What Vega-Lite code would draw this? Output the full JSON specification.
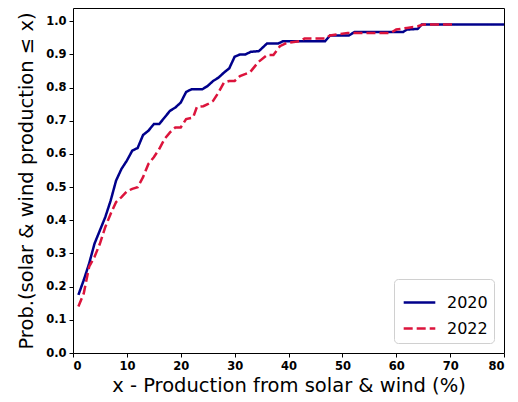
{
  "$schema": "https://vega.github.io/schema/vega-lite/v6.json",
  "width": 431,
  "height": 345,
  "autosize": {"type": "none"},
  "padding": {"left": 73, "top": 8, "right": 14, "bottom": 49},
  "background": "white",
  "config": {
    "font": "DejaVu Sans",
    "view": {"stroke": "black", "strokeWidth": 1},
    "axis": {
      "grid": false,
      "domain": false,
      "tickColor": "black",
      "tickSize": 4,
      "labelFont": "DejaVu Sans",
      "labelFontWeight": "bold",
      "labelFontSize": 11.5,
      "labelColor": "black",
      "titleFont": "DejaVu Sans",
      "titleFontWeight": "normal",
      "titleFontSize": 19.5,
      "titleColor": "black"
    }
  },
  "datasets": {
    "cdf": [
      {"x": 1, "p": 0.175, "year": "2020"},
      {"x": 2, "p": 0.22, "year": "2020"},
      {"x": 3, "p": 0.27, "year": "2020"},
      {"x": 4, "p": 0.33, "year": "2020"},
      {"x": 5, "p": 0.37, "year": "2020"},
      {"x": 6, "p": 0.41, "year": "2020"},
      {"x": 7, "p": 0.46, "year": "2020"},
      {"x": 8, "p": 0.52, "year": "2020"},
      {"x": 9, "p": 0.555, "year": "2020"},
      {"x": 10, "p": 0.58, "year": "2020"},
      {"x": 11, "p": 0.61, "year": "2020"},
      {"x": 12, "p": 0.618, "year": "2020"},
      {"x": 13, "p": 0.657, "year": "2020"},
      {"x": 14, "p": 0.67, "year": "2020"},
      {"x": 15, "p": 0.69, "year": "2020"},
      {"x": 16, "p": 0.69, "year": "2020"},
      {"x": 17, "p": 0.71, "year": "2020"},
      {"x": 18, "p": 0.73, "year": "2020"},
      {"x": 19, "p": 0.74, "year": "2020"},
      {"x": 20, "p": 0.755, "year": "2020"},
      {"x": 21, "p": 0.787, "year": "2020"},
      {"x": 22, "p": 0.795, "year": "2020"},
      {"x": 23, "p": 0.795, "year": "2020"},
      {"x": 24, "p": 0.795, "year": "2020"},
      {"x": 25, "p": 0.805, "year": "2020"},
      {"x": 26, "p": 0.82, "year": "2020"},
      {"x": 27, "p": 0.83, "year": "2020"},
      {"x": 28, "p": 0.845, "year": "2020"},
      {"x": 29, "p": 0.858, "year": "2020"},
      {"x": 30, "p": 0.893, "year": "2020"},
      {"x": 31, "p": 0.9, "year": "2020"},
      {"x": 32, "p": 0.9, "year": "2020"},
      {"x": 33, "p": 0.908, "year": "2020"},
      {"x": 34.5, "p": 0.91, "year": "2020"},
      {"x": 36, "p": 0.933, "year": "2020"},
      {"x": 38.1, "p": 0.933, "year": "2020"},
      {"x": 39, "p": 0.94, "year": "2020"},
      {"x": 46.8, "p": 0.94, "year": "2020"},
      {"x": 47.7, "p": 0.957, "year": "2020"},
      {"x": 51.2, "p": 0.957, "year": "2020"},
      {"x": 52.3, "p": 0.968, "year": "2020"},
      {"x": 61.3, "p": 0.968, "year": "2020"},
      {"x": 62, "p": 0.975, "year": "2020"},
      {"x": 64, "p": 0.977, "year": "2020"},
      {"x": 64.7, "p": 0.99, "year": "2020"},
      {"x": 80, "p": 0.99, "year": "2020"},
      {"x": 1, "p": 0.14, "year": "2022"},
      {"x": 2, "p": 0.18, "year": "2022"},
      {"x": 3, "p": 0.26, "year": "2022"},
      {"x": 4, "p": 0.29, "year": "2022"},
      {"x": 5, "p": 0.33, "year": "2022"},
      {"x": 6, "p": 0.38, "year": "2022"},
      {"x": 7, "p": 0.42, "year": "2022"},
      {"x": 8, "p": 0.455, "year": "2022"},
      {"x": 9, "p": 0.47, "year": "2022"},
      {"x": 10, "p": 0.487, "year": "2022"},
      {"x": 11, "p": 0.495, "year": "2022"},
      {"x": 12, "p": 0.5, "year": "2022"},
      {"x": 13, "p": 0.53, "year": "2022"},
      {"x": 14, "p": 0.57, "year": "2022"},
      {"x": 15, "p": 0.59, "year": "2022"},
      {"x": 16, "p": 0.615, "year": "2022"},
      {"x": 17, "p": 0.645, "year": "2022"},
      {"x": 18, "p": 0.665, "year": "2022"},
      {"x": 19, "p": 0.68, "year": "2022"},
      {"x": 20, "p": 0.68, "year": "2022"},
      {"x": 21, "p": 0.705, "year": "2022"},
      {"x": 22.3, "p": 0.71, "year": "2022"},
      {"x": 23, "p": 0.742, "year": "2022"},
      {"x": 24.2, "p": 0.744, "year": "2022"},
      {"x": 25, "p": 0.75, "year": "2022"},
      {"x": 26, "p": 0.76, "year": "2022"},
      {"x": 27, "p": 0.785, "year": "2022"},
      {"x": 28, "p": 0.815, "year": "2022"},
      {"x": 29, "p": 0.82, "year": "2022"},
      {"x": 30, "p": 0.82, "year": "2022"},
      {"x": 31, "p": 0.835, "year": "2022"},
      {"x": 32.9, "p": 0.847, "year": "2022"},
      {"x": 34.4, "p": 0.877, "year": "2022"},
      {"x": 36, "p": 0.898, "year": "2022"},
      {"x": 37.2, "p": 0.898, "year": "2022"},
      {"x": 38.4, "p": 0.925, "year": "2022"},
      {"x": 39.7, "p": 0.935, "year": "2022"},
      {"x": 42, "p": 0.94, "year": "2022"},
      {"x": 43, "p": 0.948, "year": "2022"},
      {"x": 46.8, "p": 0.948, "year": "2022"},
      {"x": 47.7, "p": 0.957, "year": "2022"},
      {"x": 51, "p": 0.965, "year": "2022"},
      {"x": 59, "p": 0.965, "year": "2022"},
      {"x": 60, "p": 0.975, "year": "2022"},
      {"x": 62, "p": 0.98, "year": "2022"},
      {"x": 64, "p": 0.985, "year": "2022"},
      {"x": 65, "p": 0.99, "year": "2022"},
      {"x": 71, "p": 0.99, "year": "2022"}
    ]
  },
  "data": {"name": "cdf"},
  "mark": {"type": "line", "strokeWidth": 2.5, "clip": true},
  "encoding": {
    "x": {
      "field": "x",
      "type": "quantitative",
      "scale": {"domain": [0, 80], "nice": false},
      "axis": {"values": [0, 10, 20, 30, 40, 50, 60, 70, 80], "labelPadding": 3, "title": "x - Production from solar & wind (%)", "titlePadding": 5}
    },
    "y": {
      "field": "p",
      "type": "quantitative",
      "scale": {"domain": [0, 1.04], "nice": false, "zero": false},
      "axis": {"values": [0, 0.1, 0.2, 0.3, 0.4, 0.5, 0.6, 0.7, 0.8, 0.9, 1.0], "format": ".1f", "labelPadding": 3, "title": "Prob.(solar & wind production ≤ x)", "titlePadding": 9}
    },
    "color": {
      "field": "year",
      "type": "nominal",
      "scale": {"domain": ["2020", "2022"], "range": ["#00008B", "#DC143C"]},
      "legend": {
        "title": null,
        "orient": "bottom-right",
        "offset": 10,
        "padding": 6,
        "strokeColor": "#d0d0d0",
        "fillColor": "white",
        "cornerRadius": 4,
        "labelFontSize": 16,
        "labelFont": "DejaVu Sans",
        "labelColor": "black",
        "labelOffset": 10,
        "rowPadding": 0,
        "symbolType": "stroke",
        "symbolStrokeWidth": 2.5,
        "symbolSize": 1000,
        "symbolOffset": 2
      }
    },
    "strokeDash": {
      "field": "year",
      "type": "nominal",
      "scale": {"domain": ["2020", "2022"], "range": [[1, 0], [9, 4]]},
      "legend": null
    }
  }
}
